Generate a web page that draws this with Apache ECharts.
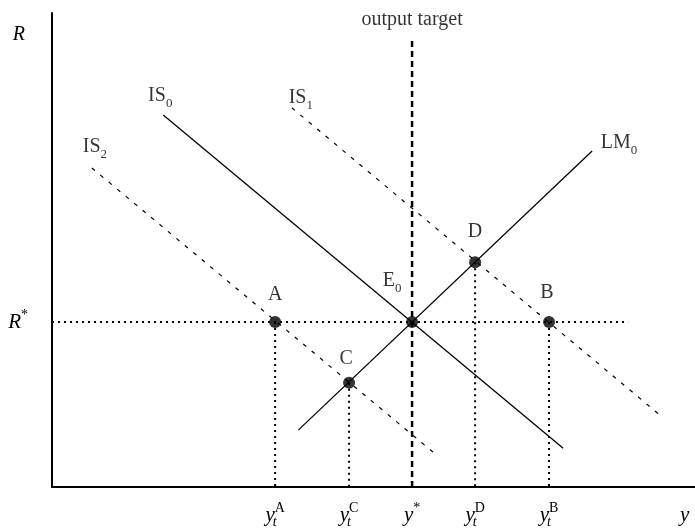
<!DOCTYPE html>
<html><head><meta charset="utf-8">
<script src="https://cdn.jsdelivr.net/npm/echarts@6/dist/echarts.min.js"></script>
<style>html,body{margin:0;padding:0;background:#fff}#c{width:695px;height:529px}</style>
</head><body><div id="c"></div>
<script>
// ---- Data (chart units: x = output y, 0..100 ; y = interest rate R, 0..100) ----
const yStar = 56.0;
const rStar = 34.8;
const pointNames = ['A', 'B', 'C', 'D', 'E_0'];
const pointX = [34.7, 77.3, 46.2, 65.8, 56.0];
const pointY = [34.8, 34.8, 22.0, 47.4, 34.8];
const dropPoints = ['A', 'C', 'D', 'B'];
const curveNames = ['IS_0', 'IS_1', 'IS_2', 'LM_0'];
const IS0 = [[17.3, 78.5], [79.5, 8.2]];
const IS1 = [[37.3, 80.0], [94.7, 15.0]];
const IS2 = [[6.2, 67.3], [59.4, 7.2]];
const LM0 = [[38.3, 12.0], [84.0, 70.9]];
const outputTargetTop = 94.1;
const rStarLineEnd = 89.6;
const xTickValues = [34.7, 46.2, 56.0, 65.8, 77.3, 98.4];
const xTickLabels = ['y_t^A', 'y_t^C', 'y^*', 'y_t^D', 'y_t^B', 'y'];
const yTickValues = [34.8, 95.4];
const yTickLabels = ['R^*', 'R'];
const targetLabel = 'output target';

// ---- Styles ----
const FONT = '"Liberation Serif", "Times New Roman", serif';
const RICH = {
  b:     { fontFamily: FONT, fontSize: 20, lineHeight: 28, color: '#000' },
  bi:    { fontFamily: FONT, fontSize: 21, lineHeight: 28, color: '#000', fontStyle: 'italic' },
  bip:   { fontFamily: FONT, fontSize: 20, lineHeight: 28, color: '#000', fontStyle: 'italic', padding: [0, 3, 0, 0] },
  sub:   { fontFamily: FONT, fontSize: 13, lineHeight: 13, color: '#000', verticalAlign: 'bottom' },
  subi:  { fontFamily: FONT, fontSize: 14, lineHeight: 13, color: '#000', verticalAlign: 'bottom', fontStyle: 'italic' },
  subiz: { fontFamily: FONT, fontSize: 14, lineHeight: 13, color: '#000', verticalAlign: 'bottom', fontStyle: 'italic', width: 0 },
  sup:   { fontFamily: FONT, fontSize: 14, lineHeight: 26, color: '#000', verticalAlign: 'top' }
};
function toRich(s, italic, baseStyle) {
  const m = s.match(/^([^_^]+)(?:_([^_^]+))?(?:\^(.+))?$/);
  const base = m[1], sub = m[2], sup = m[3];
  let out = '{' + (baseStyle || (italic ? 'bi' : 'b')) + '|' + base + '}';
  if (sub) out += '{' + (italic ? (sup ? 'subiz' : 'subi') : 'sub') + '|' + sub + '}';
  if (sup) out += '{sup|' + sup + '}';
  return out;
}
function nearestIdx(arr, v) {
  let bi = 0;
  arr.forEach((a, i) => { if (Math.abs(a - v) < Math.abs(arr[bi] - v)) bi = i; });
  return bi;
}

// label offsets (layout only)
const pointLabelOffset = { 'A': [0, -27], 'B': [-2, -29], 'C': [-3, -24], 'D': [0, -31], 'E_0': [-20, -41] };
const curveLabelOffset = { 'IS_0': [-3, -19], 'IS_1': [9, -10], 'IS_2': [3, -21], 'LM_0': [27, -8] };

const dotted = { color: '#000', width: 2, type: [2, 4] };
const thinDash = { color: '#000', width: 1.2, type: [4, 7] };
const solid = { color: '#000', width: 1.3, type: 'solid' };
const labelBase = { show: true, position: 'inside', color: '#000', textBorderWidth: 0, rich: RICH };

const series = [];
// R* horizontal dotted line
series.push({ type: 'line', data: [[0, rStar], [rStarLineEnd, rStar]], symbol: 'none', lineStyle: dotted, z: 1 });
// vertical drop lines from points
dropPoints.forEach(n => {
  const i = pointNames.indexOf(n);
  series.push({ type: 'line', data: [[pointX[i], pointY[i]], [pointX[i], 0]], symbol: 'none', lineStyle: dotted, z: 1 });
});
// output target
series.push({ type: 'line', data: [[yStar, 0], [yStar, outputTargetTop]], symbol: 'none',
  lineStyle: { color: '#000', width: 2.5, type: [6, 4] }, z: 2 });
// curves
const curves = { 'IS_0': [IS0, solid], 'IS_1': [IS1, thinDash], 'IS_2': [IS2, thinDash], 'LM_0': [LM0, solid] };
curveNames.forEach(n => {
  series.push({ type: 'line', data: curves[n][0], symbol: 'none', lineStyle: curves[n][1], z: 3 });
});
// points
series.push({
  type: 'scatter', symbol: 'circle', symbolSize: 12, itemStyle: { color: '#000' }, z: 10,
  data: pointNames.map((n, i) => ({
    value: [pointX[i], pointY[i]],
    label: Object.assign({}, labelBase, { offset: pointLabelOffset[n], formatter: toRich(n, false) })
  }))
});
// curve labels + output target label
const labelData = curveNames.map(n => {
  const c = curves[n][0];
  const anchor = n === 'LM_0' ? c[1] : c[0];
  return { value: anchor, label: Object.assign({}, labelBase, { offset: curveLabelOffset[n], formatter: toRich(n, false) }) };
});
labelData.push({ value: [yStar, outputTargetTop], label: Object.assign({}, labelBase, { offset: [0, -21], formatter: '{b|' + targetLabel + '}' }) });
series.push({ type: 'scatter', symbolSize: 1, itemStyle: { color: 'rgba(0,0,0,0)' }, z: 11, silent: true, data: labelData });

const chart = echarts.init(document.getElementById('c'), null, { renderer: 'canvas' });
chart.setOption({
  animation: false,
  backgroundColor: '#fff',
  grid: { left: 52, right: 0, top: 13, bottom: 42, containLabel: false, outerBoundsMode: 'none' },
  xAxis: {
    type: 'value', min: 0, max: 100,
    axisLine: { show: true, lineStyle: { color: '#000', width: 2 } },
    axisTick: { show: false }, splitLine: { show: false },
    axisLabel: {
      show: true, customValues: xTickValues, margin: 14, rich: RICH, color: '#000',
      formatter: v => toRich(xTickLabels[nearestIdx(xTickValues, v)], true)
    }
  },
  yAxis: {
    type: 'value', min: 0, max: 100,
    axisLine: { show: true, onZero: false, lineStyle: { color: '#000', width: 2 } },
    axisTick: { show: false }, splitLine: { show: false },
    axisLabel: {
      show: true, customValues: yTickValues, margin: 24, rich: RICH, color: '#000',
      formatter: v => {
        const s = yTickLabels[nearestIdx(yTickValues, v)];
        return s.indexOf('^') >= 0 ? toRich(s, true) : toRich(s, true, 'bip');
      }
    }
  },
  series: series
});
</script></body></html>
